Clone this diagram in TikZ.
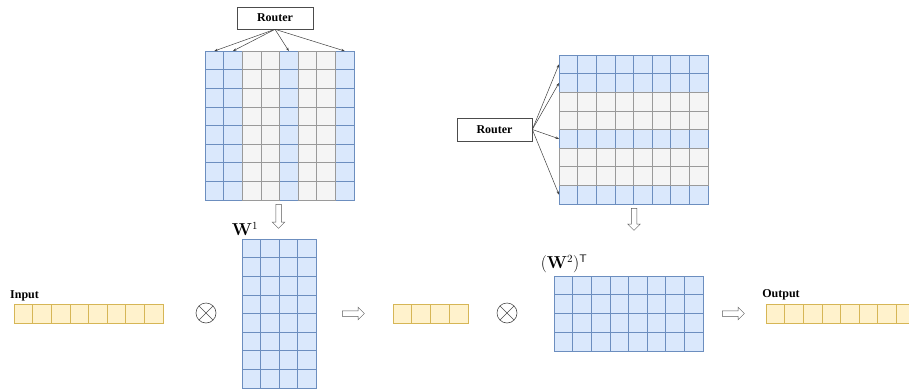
\documentclass[tikz,border=0pt]{standalone}
\usepackage[no-math]{fontspec}
\setmainfont{Liberation Serif}
\usetikzlibrary{shapes.arrows,arrows.meta}
\definecolor{bfill}{HTML}{DAE8FC}
\definecolor{bline}{HTML}{6C8EBF}
\definecolor{gfill}{HTML}{F5F5F5}
\definecolor{gline}{HTML}{9A9A9A}
\definecolor{yfill}{HTML}{FFF2CC}
\definecolor{yline}{HTML}{D6B656}
\begin{document}
\begin{tikzpicture}[x=1pt,y=-1pt,
  bcell/.style={fill=bfill,draw=bline,line width=0.6pt},
  gcell/.style={fill=gfill,draw=gline,line width=0.6pt},
  ycell/.style={fill=yfill,draw=yline,line width=0.6pt},
  router/.style={draw=black!70,fill=white,line width=0.6pt,minimum width=76,minimum height=22,inner sep=0,font=\bfseries\fontsize{12}{12}\selectfont},
  lbl/.style={font=\bfseries\fontsize{12}{12}\selectfont,inner sep=0},
  mlbl/.style={font=\fontsize{16}{16}\selectfont,inner sep=0},
  rarrow/.style={-{Stealth[length=3.5pt,width=2.5pt]},draw=black!75,line width=0.5pt},
  blockarrow/.style={single arrow,draw=black!65,fill=white,line width=0.5pt,inner sep=2.5pt,single arrow head extend=3.5pt,single arrow head indent=0pt},
  otimesnode/.style={circle,draw=black!70,line width=0.6pt,minimum size=20,inner sep=0,
    path picture={\draw[black!70,line width=0.6pt] (path picture bounding box.north west)--(path picture bounding box.south east) (path picture bounding box.north east)--(path picture bounding box.south west);}}]
\def\cs{18.625}
\clip (0,0) rectangle (909,388);
\fill[white] (0,0) rectangle (909,388);

% ---- top-left matrix (column routing)
\foreach \i in {0,1,4,7}{\foreach \j in {0,...,7}{
  \draw[bcell] (205+\i*\cs,51+\j*\cs) rectangle ++(\cs,\cs);}}
\foreach \i in {2,3,5,6}{\foreach \j in {0,...,7}{
  \draw[gcell] (205+\i*\cs,51+\j*\cs) rectangle ++(\cs,\cs);}}
\node[router] (r1) at (275,18) {Router};
\coordinate (c0) at (205+0.5*\cs,51);
\coordinate (c1) at (205+1.5*\cs,51);
\coordinate (c4) at (205+4.5*\cs,51);
\coordinate (c7) at (205+7.5*\cs,51);
\foreach \c in {c0,c1,c4,c7}{\draw[rarrow] (r1.south) -- (\c);}
\node[blockarrow,minimum height=24,rotate=-90] (d1) at (278.5,215) {};

% ---- top-right matrix (row routing)
\foreach \j in {0,1,4,7}{\foreach \i in {0,...,7}{
  \draw[bcell] (559+\i*\cs,55+\j*\cs) rectangle ++(\cs,\cs);}}
\foreach \j in {2,3,5,6}{\foreach \i in {0,...,7}{
  \draw[gcell] (559+\i*\cs,55+\j*\cs) rectangle ++(\cs,\cs);}}
\node[router,minimum width=75,minimum height=23] (r2) at (494.5,129.5) {Router};
\coordinate (w0) at (559,55+0.5*\cs);
\coordinate (w1) at (559,55+1.5*\cs);
\coordinate (w4) at (559,55+4.5*\cs);
\coordinate (w7) at (559,55+7.5*\cs);
\foreach \c in {w0,w1,w4,w7}{\draw[rarrow] (r2.east) -- (\c);}
\node[blockarrow,minimum height=22,rotate=-90] (d2) at (634,218) {};

% ---- bottom row
\node[lbl,anchor=west] (inl) at (10,296) {Input};
\foreach \i in {0,...,7}{\draw[ycell] (14+\i*\cs,304) rectangle ++(\cs,19);}
\node[otimesnode] (x1) at (206,313) {};

\node[mlbl] (w1l) at (245,229) {$\mathbf{W}^1$};
\foreach \i in {0,...,3}{\foreach \j in {0,...,7}{
  \draw[bcell] (242+\i*18.5,239+\j*\cs) rectangle ++(18.5,\cs);}}

\node[blockarrow,minimum height=22] (a1) at (352,313.5) {};
\foreach \i in {0,...,3}{\draw[ycell] (393+\i*18.75,304) rectangle ++(18.75,19);}
\node[otimesnode] (x2) at (507,313) {};

\node[mlbl] (w2l) at (564,264) {$(\mathbf{W}^2)^{\mathsf{T}}$};
\foreach \i in {0,...,7}{\foreach \j in {0,...,3}{
  \draw[bcell] (554+\i*\cs,276+\j*18.75) rectangle ++(\cs,18.75);}}

\node[blockarrow,minimum height=22] (a2) at (732,313.5) {};
\node[lbl] (outl) at (781,295) {Output};
\foreach \i in {0,...,7}{\draw[ycell] (766+\i*\cs,304) rectangle ++(\cs,19);}
\end{tikzpicture}
\end{document}
